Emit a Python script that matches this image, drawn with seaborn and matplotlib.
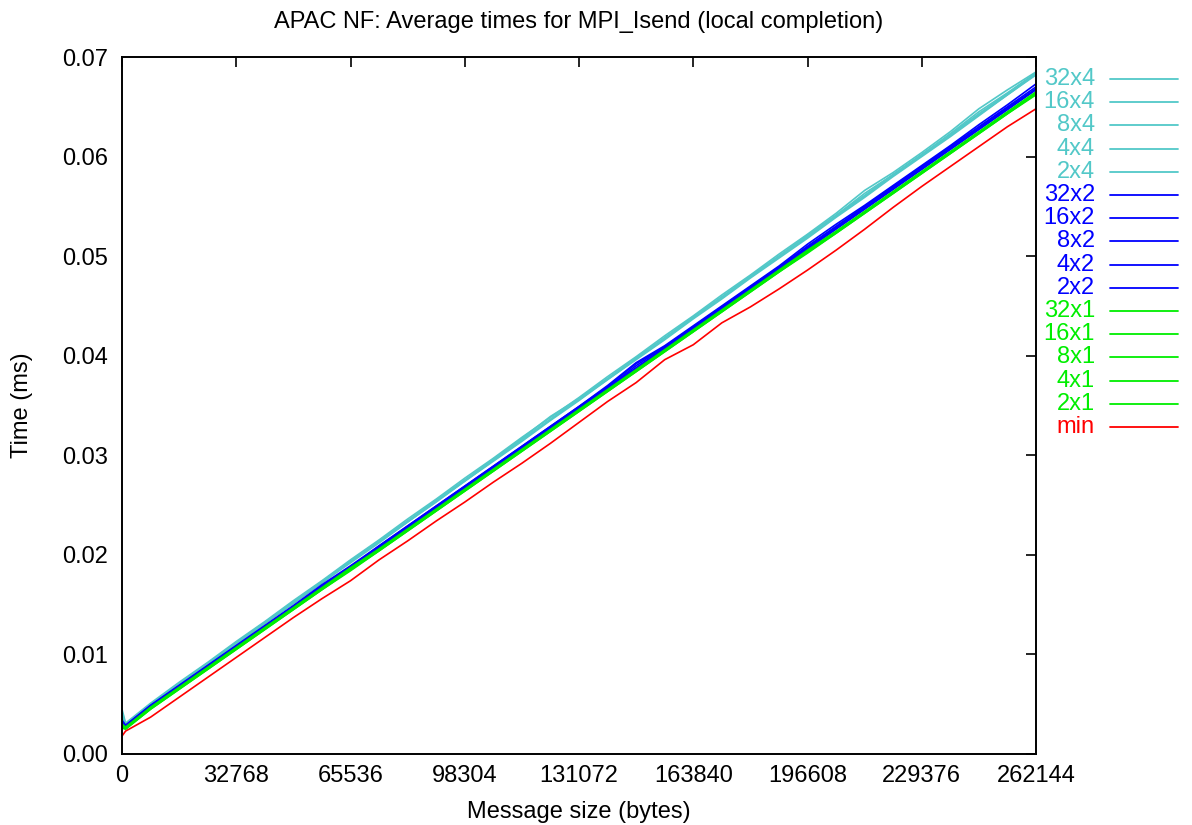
import numpy as np
import pandas as pd
import matplotlib
matplotlib.use("Agg")
import matplotlib.pyplot as plt
from matplotlib.lines import Line2D
import seaborn as sns

# message sizes (bytes)
sizes = [0, 1024] + [8192 * k for k in range(1, 33)]

c32x4 = [0.0045, 0.0031, 0.0051, 0.0072, 0.0092, 0.0113, 0.0133, 0.0154, 0.0174, 0.0195, 0.0215, 0.0236, 0.0256, 0.0277, 0.0297, 0.0318, 0.0338, 0.0358, 0.0379, 0.0399, 0.0420, 0.0440, 0.0461, 0.0481, 0.0502, 0.0522, 0.0543, 0.0566, 0.0584, 0.0604, 0.0625, 0.0648, 0.0667, 0.0685]
c16x4 = [0.0042, 0.0030, 0.0050, 0.0071, 0.0091, 0.0112, 0.0132, 0.0153, 0.0173, 0.0194, 0.0214, 0.0234, 0.0255, 0.0275, 0.0296, 0.0317, 0.0339, 0.0357, 0.0377, 0.0398, 0.0418, 0.0439, 0.0459, 0.0480, 0.0500, 0.0521, 0.0541, 0.0563, 0.0582, 0.0602, 0.0623, 0.0645, 0.0664, 0.0684]
c8x4 = [0.0040, 0.0030, 0.0050, 0.0070, 0.0091, 0.0111, 0.0132, 0.0152, 0.0173, 0.0193, 0.0214, 0.0234, 0.0254, 0.0275, 0.0295, 0.0316, 0.0336, 0.0357, 0.0377, 0.0397, 0.0418, 0.0438, 0.0459, 0.0479, 0.0500, 0.0520, 0.0541, 0.0561, 0.0582, 0.0602, 0.0622, 0.0643, 0.0663, 0.0683]
c4x4 = [0.0038, 0.0029, 0.0049, 0.0070, 0.0090, 0.0111, 0.0131, 0.0152, 0.0172, 0.0193, 0.0213, 0.0233, 0.0254, 0.0274, 0.0295, 0.0315, 0.0336, 0.0356, 0.0376, 0.0397, 0.0417, 0.0438, 0.0458, 0.0479, 0.0499, 0.0519, 0.0540, 0.0560, 0.0581, 0.0601, 0.0621, 0.0642, 0.0662, 0.0682]
c2x4 = [0.0036, 0.0029, 0.0049, 0.0069, 0.0090, 0.0110, 0.0131, 0.0151, 0.0172, 0.0192, 0.0212, 0.0233, 0.0253, 0.0274, 0.0294, 0.0314, 0.0335, 0.0355, 0.0376, 0.0396, 0.0416, 0.0437, 0.0457, 0.0478, 0.0498, 0.0518, 0.0539, 0.0559, 0.0580, 0.0600, 0.0620, 0.0641, 0.0662, 0.0683]

b32x2 = [0.0034, 0.0029, 0.0049, 0.0069, 0.0089, 0.0109, 0.0129, 0.0149, 0.0170, 0.0189, 0.0209, 0.0229, 0.0249, 0.0269, 0.0289, 0.0309, 0.0329, 0.0349, 0.0370, 0.0393, 0.0410, 0.0430, 0.0450, 0.0470, 0.0490, 0.0512, 0.0532, 0.0551, 0.0571, 0.0591, 0.0611, 0.0632, 0.0652, 0.0673]
b16x2 = [0.0032, 0.0028, 0.0048, 0.0068, 0.0088, 0.0108, 0.0128, 0.0148, 0.0169, 0.0188, 0.0209, 0.0229, 0.0249, 0.0269, 0.0289, 0.0309, 0.0329, 0.0349, 0.0369, 0.0392, 0.0409, 0.0429, 0.0449, 0.0469, 0.0489, 0.0510, 0.0530, 0.0550, 0.0570, 0.0590, 0.0610, 0.0630, 0.0650, 0.0670]
b8x2 = [0.0031, 0.0028, 0.0048, 0.0068, 0.0088, 0.0108, 0.0128, 0.0148, 0.0168, 0.0188, 0.0208, 0.0228, 0.0248, 0.0268, 0.0288, 0.0308, 0.0328, 0.0348, 0.0368, 0.0390, 0.0409, 0.0429, 0.0449, 0.0469, 0.0489, 0.0509, 0.0529, 0.0549, 0.0569, 0.0589, 0.0609, 0.0629, 0.0649, 0.0668]
b4x2 = [0.0030, 0.0028, 0.0048, 0.0068, 0.0088, 0.0108, 0.0128, 0.0148, 0.0168, 0.0188, 0.0208, 0.0228, 0.0248, 0.0268, 0.0288, 0.0308, 0.0328, 0.0348, 0.0368, 0.0388, 0.0408, 0.0428, 0.0448, 0.0468, 0.0488, 0.0508, 0.0528, 0.0548, 0.0568, 0.0588, 0.0608, 0.0628, 0.0648, 0.0668]
b2x2 = [0.0030, 0.0027, 0.0047, 0.0067, 0.0087, 0.0107, 0.0127, 0.0147, 0.0167, 0.0187, 0.0207, 0.0227, 0.0247, 0.0267, 0.0287, 0.0307, 0.0327, 0.0347, 0.0367, 0.0387, 0.0407, 0.0427, 0.0447, 0.0467, 0.0487, 0.0507, 0.0527, 0.0547, 0.0567, 0.0587, 0.0607, 0.0627, 0.0647, 0.0667]

g32x1 = [0.0030, 0.0027, 0.0047, 0.0067, 0.0087, 0.0107, 0.0127, 0.0147, 0.0167, 0.0187, 0.0206, 0.0226, 0.0246, 0.0266, 0.0286, 0.0306, 0.0326, 0.0346, 0.0366, 0.0386, 0.0406, 0.0426, 0.0446, 0.0466, 0.0486, 0.0506, 0.0525, 0.0545, 0.0565, 0.0585, 0.0605, 0.0625, 0.0645, 0.0665]
g16x1 = [0.0029, 0.0026, 0.0046, 0.0066, 0.0086, 0.0106, 0.0126, 0.0146, 0.0166, 0.0186, 0.0205, 0.0225, 0.0245, 0.0265, 0.0285, 0.0305, 0.0325, 0.0345, 0.0365, 0.0385, 0.0405, 0.0425, 0.0445, 0.0465, 0.0485, 0.0505, 0.0524, 0.0544, 0.0564, 0.0584, 0.0604, 0.0624, 0.0644, 0.0664]
g8x1 = [0.0028, 0.0026, 0.0046, 0.0066, 0.0086, 0.0106, 0.0126, 0.0146, 0.0166, 0.0185, 0.0205, 0.0225, 0.0245, 0.0265, 0.0285, 0.0305, 0.0325, 0.0345, 0.0365, 0.0385, 0.0405, 0.0425, 0.0445, 0.0465, 0.0485, 0.0504, 0.0524, 0.0544, 0.0564, 0.0584, 0.0604, 0.0624, 0.0644, 0.0663]
g4x1 = [0.0027, 0.0025, 0.0045, 0.0065, 0.0085, 0.0105, 0.0125, 0.0145, 0.0165, 0.0185, 0.0204, 0.0224, 0.0244, 0.0264, 0.0284, 0.0304, 0.0324, 0.0344, 0.0364, 0.0384, 0.0404, 0.0424, 0.0444, 0.0464, 0.0484, 0.0504, 0.0523, 0.0543, 0.0563, 0.0583, 0.0603, 0.0623, 0.0643, 0.0663]
g2x1 = [0.0026, 0.0025, 0.0045, 0.0065, 0.0085, 0.0105, 0.0125, 0.0145, 0.0165, 0.0184, 0.0204, 0.0224, 0.0244, 0.0264, 0.0284, 0.0304, 0.0324, 0.0344, 0.0364, 0.0384, 0.0404, 0.0424, 0.0444, 0.0464, 0.0484, 0.0503, 0.0523, 0.0543, 0.0563, 0.0583, 0.0603, 0.0623, 0.0643, 0.0662]

tmin = [0.0018, 0.0023, 0.0037, 0.0057, 0.0077, 0.0097, 0.0117, 0.0137, 0.0156, 0.0174, 0.0195, 0.0214, 0.0234, 0.0253, 0.0273, 0.0292, 0.0312, 0.0333, 0.0354, 0.0373, 0.0396, 0.0411, 0.0433, 0.0449, 0.0467, 0.0486, 0.0506, 0.0527, 0.0549, 0.0570, 0.0590, 0.0610, 0.0630, 0.0648]

series_names = ["32x4", "16x4", "8x4", "4x4", "2x4",
                "32x2", "16x2", "8x2", "4x2", "2x2",
                "32x1", "16x1", "8x1", "4x1", "2x1", "min"]
series_values = [c32x4, c16x4, c8x4, c4x4, c2x4,
                 b32x2, b16x2, b8x2, b4x2, b2x2,
                 g32x1, g16x1, g8x1, g4x1, g2x1, tmin]

x_ticks = [0, 32768, 65536, 98304, 131072, 163840, 196608, 229376, 262144]
y_ticks = [0.00, 0.01, 0.02, 0.03, 0.04, 0.05, 0.06, 0.07]

CYAN = "#52C8C8"
BLUE = "#0000FF"
GREEN = "#00EE00"
RED = "#FF0000"
palette = {n: (CYAN if n.endswith("x4") else BLUE if n.endswith("x2") else GREEN if n.endswith("x1") else RED)
           for n in series_names}

rows = []
for name, vals in zip(series_names, series_values):
    for s, v in zip(sizes, vals):
        rows.append((name, s, v))
df = pd.DataFrame(rows, columns=["series", "size", "time"])

sns.set_theme(style="white")
plt.rcParams["font.family"] = ["Liberation Sans", "DejaVu Sans"]
for k in ("text.color", "axes.labelcolor", "xtick.color", "ytick.color"):
    plt.rcParams[k] = "black"

FS = 17
fig = plt.figure(figsize=(11.92, 8.25), dpi=100)
W, H = 1192, 825
ax = fig.add_axes([122 / W, 1 - 754 / H, (1036 - 122) / W, (754 - 57) / H])

sns.lineplot(data=df, x="size", y="time", hue="series", hue_order=series_names,
             palette=palette, estimator=None, legend=False, linewidth=1.2, ax=ax,
             sort=False)

ax.set_xlim(0, 262144)
ax.set_ylim(0, 0.07)
ax.set_xticks(x_ticks)
ax.set_xticklabels([str(t) for t in x_ticks])
ax.set_yticks(y_ticks)
ax.set_yticklabels([f"{t:.2f}" for t in y_ticks])
ax.tick_params(axis="both", which="both", direction="in", length=7, width=1.2,
               top=True, right=True, labelsize=FS, colors="black")
ax.tick_params(axis="y", pad=10)
ax.tick_params(axis="x", pad=8)
for sp in ax.spines.values():
    sp.set_visible(True)
    sp.set_color("black")
    sp.set_linewidth(1.4)

ax.set_xlabel("Message size (bytes)", fontsize=FS)
ax.xaxis.label.set_va("center")
ax.xaxis.set_label_coords(0.5, (754 - 812) / (754 - 57))
ax.set_ylabel("Time (ms)", fontsize=FS)
ax.yaxis.label.set_va("center")
ax.yaxis.set_label_coords((22 - 122) / (1036 - 122), 0.5)

fig.text((122 + 1036) / 2 / W, 1 - 22 / H,
         "APAC NF: Average times for MPI_Isend (local completion)",
         ha="center", va="center", fontsize=FS)

# manual key to the right of the plot, gnuplot style
y0 = 79
dy = 23.2
for i, name in enumerate(series_names):
    y = 1 - (y0 + i * dy) / H
    col = palette[name]
    fig.text(1095 / W, y, name, ha="right", va="center", fontsize=FS, color=col)
    fig.add_artist(Line2D([1110 / W, 1178 / W], [y, y], color=col, linewidth=1.3,
                          transform=fig.transFigure))

fig.savefig("out.png", dpi=100)
